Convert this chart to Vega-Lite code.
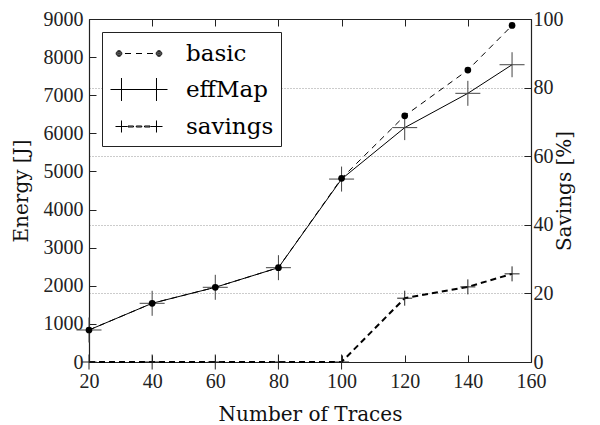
{
  "$schema": "https://vega.github.io/schema/vega-lite/v6.json",
  "width": 442,
  "height": 343,
  "autosize": {"type": "none"},
  "padding": {"left": 89, "top": 19, "right": 69, "bottom": 63},
  "background": "white",
  "data": {
    "values": [
      {"traces": 20, "series": "basic", "value": 840},
      {"traces": 40, "series": "basic", "value": 1540},
      {"traces": 60, "series": "basic", "value": 1960},
      {"traces": 80, "series": "basic", "value": 2475},
      {"traces": 100, "series": "basic", "value": 4820},
      {"traces": 120, "series": "basic", "value": 6460},
      {"traces": 140, "series": "basic", "value": 7660},
      {"traces": 154, "series": "basic", "value": 8830},
      {"traces": 20, "series": "effMap", "value": 840},
      {"traces": 40, "series": "effMap", "value": 1540},
      {"traces": 60, "series": "effMap", "value": 1960},
      {"traces": 80, "series": "effMap", "value": 2475},
      {"traces": 100, "series": "effMap", "value": 4800},
      {"traces": 120, "series": "effMap", "value": 6150},
      {"traces": 140, "series": "effMap", "value": 7050},
      {"traces": 154, "series": "effMap", "value": 7800},
      {"traces": 20, "series": "savings", "value": 0},
      {"traces": 40, "series": "savings", "value": 0},
      {"traces": 60, "series": "savings", "value": 0},
      {"traces": 80, "series": "savings", "value": 0},
      {"traces": 100, "series": "savings", "value": 0},
      {"traces": 120, "series": "savings", "value": 18.6},
      {"traces": 140, "series": "savings", "value": 21.9},
      {"traces": 154, "series": "savings", "value": 25.7}
    ]
  },
  "config": {
    "view": {"stroke": null},
    "axis": {
      "domainColor": "#222",
      "domainWidth": 1.2,
      "tickColor": "#222",
      "tickSize": -7,
      "labelFont": "Liberation Serif",
      "labelFontSize": 20,
      "labelColor": "#222",
      "titleFont": "DejaVu Serif",
      "titleFontSize": 20,
      "titleFontWeight": "normal",
      "titleColor": "#111",
      "grid": false
    }
  },
  "layer": [
    {
      "encoding": {
        "x": {"field": "traces", "type": "quantitative", "scale": {"domain": [20, 160], "nice": false, "zero": false}, "axis": null},
        "y": {
          "field": "value", "type": "quantitative",
          "scale": {"domain": [0, 9000], "nice": false},
          "axis": {"orient": "left", "title": "Energy [J]", "format": "d", "values": [0,1000,2000,3000,4000,5000,6000,7000,8000,9000], "labelPadding": 13, "titlePadding": 12}
        }
      },
      "layer": [
        {
          "mark": {"type": "point", "opacity": 0, "size": 784, "filled": false, "color": "black", "strokeWidth": 1},
          "encoding": {
            "x": {"field": "traces", "type": "quantitative", "scale": {"domain": [20, 160], "nice": false, "zero": false},
                  "axis": {"orient": "top", "labels": false, "title": null, "values": [20,40,60,80,100,120,140,160]}},
            "shape": {
              "field": "series", "type": "nominal",
              "scale": {
                "domain": ["basic", "effMap", "savings"],
                "range": [
                  "M-0.121,0A0.2,0.2,0,1,1,-0.521,0A0.2,0.2,0,1,1,-0.121,0ZM-0.178,0A0.143,0.143,0,1,1,-0.464,0A0.143,0.143,0,1,1,-0.178,0ZM-0.25,0A0.071,0.071,0,1,1,-0.392,0A0.071,0.071,0,1,1,-0.25,0ZM-0.3,0A0.021,0.021,0,1,1,-0.342,0A0.021,0.021,0,1,1,-0.3,0ZM2.736,0A0.2,0.2,0,1,1,2.336,0A0.2,0.2,0,1,1,2.736,0ZM2.679,0A0.143,0.143,0,1,1,2.393,0A0.143,0.143,0,1,1,2.679,0ZM2.607,0A0.071,0.071,0,1,1,2.465,0A0.071,0.071,0,1,1,2.607,0ZM2.557,0A0.021,0.021,0,1,1,2.515,0A0.021,0.021,0,1,1,2.557,0ZM0.107,0H0.536M0.893,0H1.321M1.679,0H2.107",
                  "M-0.929,0H3.143M-0.143,-0.821V0.821M2.357,-0.821V0.821",
                  "M-0.571,0H0.286M-0.143,-0.429V0.429M1.929,0H2.786M2.357,-0.429V0.429M0.321,-0.036H0.714V0.036H0.321ZM0.911,-0.036H1.304V0.036H0.911ZM1.5,-0.036H1.893V0.036H1.5Z"
                ]
              },
              "legend": {
                "title": null,
                "orient": "top-left",
                "offset": 13,
                "padding": 7,
                "strokeColor": "#222",
                "fillColor": "white",
                "cornerRadius": 0,
                "symbolSize": 784,
                "symbolOpacity": 1,
                "symbolStrokeColor": "black",
                "symbolStrokeWidth": 1,
                "labelOffset": 48,
                "labelFont": "DejaVu Serif",
                "labelFontSize": 23,
                "labelColor": "black",
                "rowPadding": 9
              }
            }
          }
        },
        {
          "transform": [{"filter": "datum.series === 'basic'"}],
          "mark": {"type": "line", "color": "black", "strokeWidth": 1, "strokeDash": [6, 5]},
          "encoding": {
            "x": {"field": "traces", "type": "quantitative", "scale": {"domain": [20, 160], "nice": false, "zero": false},
                  "axis": {"orient": "bottom", "title": "Number of Traces", "values": [20,40,60,80,100,120,140,160], "labelFlush": false, "labelPadding": 16, "titlePadding": 13}}
          }
        },
        {
          "transform": [{"filter": "datum.series === 'effMap'"}],
          "mark": {"type": "line", "color": "black", "strokeWidth": 1}
        },
        {
          "transform": [{"filter": "datum.series === 'effMap'"}],
          "mark": {"type": "point", "shape": "M-1,0H1M0,-1V1", "size": 625, "filled": false, "color": "#444", "strokeWidth": 1, "opacity": 1}
        },
        {
          "transform": [{"filter": "datum.series === 'basic'"}],
          "mark": {"type": "point", "shape": "circle", "size": 45, "filled": true, "color": "black", "opacity": 1}
        }
      ]
    },
    {
      "transform": [{"filter": "datum.series === 'savings'"}],
      "encoding": {
        "x": {"field": "traces", "type": "quantitative", "scale": {"domain": [20, 160], "nice": false, "zero": false}, "axis": null},
        "y": {
          "field": "value", "type": "quantitative",
          "scale": {"domain": [0, 100], "nice": false},
          "axis": {"orient": "right", "title": "Savings [%]", "titleAngle": 270, "values": [0,20,40,60,80,100], "grid": true, "gridColor": "#999", "gridDash": [1, 2], "gridWidth": 1, "labelPadding": 9, "titlePadding": 11}
        }
      },
      "layer": [
        {"mark": {"type": "line", "color": "black", "strokeWidth": 2, "strokeDash": [6, 4]}},
        {"mark": {"type": "point", "shape": "M-1,0H1M0,-1V1", "size": 225, "filled": false, "color": "#222", "strokeWidth": 1, "opacity": 1}}
      ]
    }
  ],
  "resolve": {"scale": {"y": "independent"}}
}
